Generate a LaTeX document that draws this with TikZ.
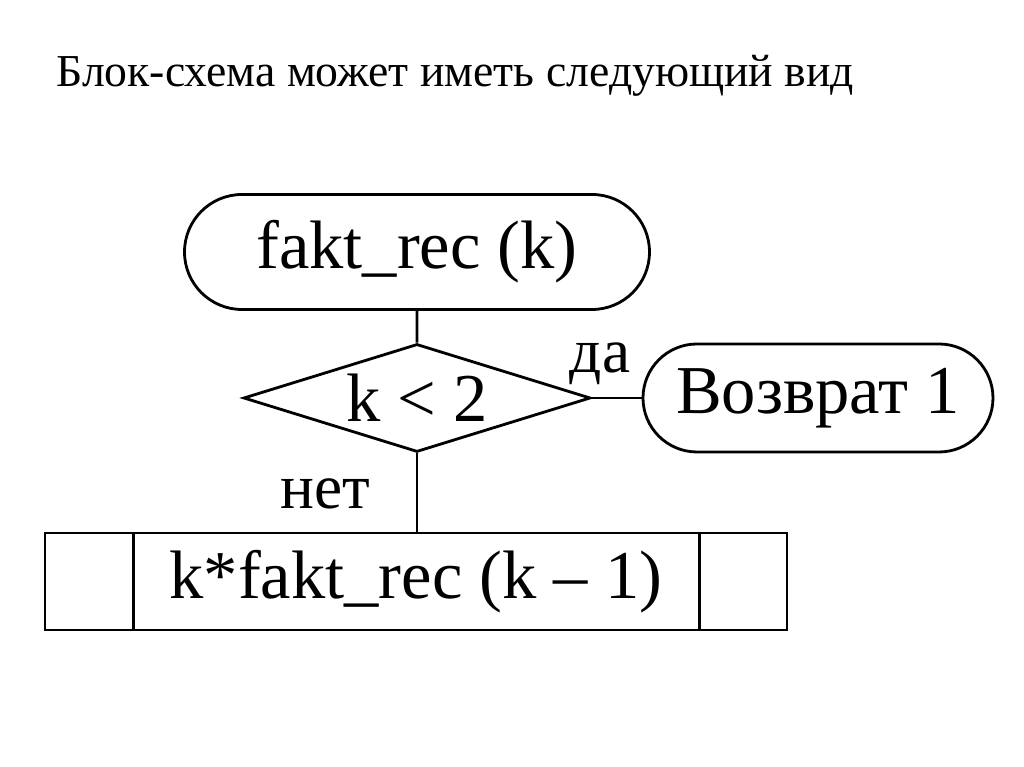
\documentclass[tikz,border=0pt]{standalone}
\usepackage{fontspec}
\setmainfont{Liberation Serif}
\usepackage{tikz}
\usetikzlibrary{positioning,calc,shapes.misc,shapes.geometric}

\begin{document}
\begin{tikzpicture}[
  line width=1.6pt,
  term/.style={rounded rectangle, draw, inner sep=0pt, minimum width=9.3cm, minimum height=2.3cm, font=\fontsize{39}{44}\selectfont},
  cond/.style={diamond, draw, inner sep=0pt, aspect=3.2, minimum width=6.94cm, minimum height=2.16cm, font=\fontsize{39}{44}\selectfont},
  proc/.style={rectangle, draw, inner sep=0pt, minimum width=14.84cm, minimum height=1.94cm, font=\fontsize{39}{44}\selectfont},
  lbl/.style={font=\fontsize{36}{40}\selectfont}
]
\useasboundingbox (0,0) rectangle (20.48,15.34);
\node[anchor=base west, inner sep=0pt, font=\fontsize{26}{30}\selectfont] (title) at (1.1,13.6) {Блок-схема может иметь следующий вид};
\node[term] (start) at (8.34,10.3) {fakt\_rec (k)};
\node[cond] (check) at (8.34,7.38) {k < 2};
\node[term, minimum width=7cm, minimum height=2.16cm] (ret) at (16.36,7.38) {Возврат 1};
\node[proc] (calc) at (8.32,3.71) {k*fakt\_rec (k – 1)};
\draw ($(calc.north west)+(1.8,0)$) -- ($(calc.south west)+(1.8,0)$);
\draw ($(calc.north east)+(-1.78,0)$) -- ($(calc.south east)+(-1.78,0)$);
\draw (start) -- (check);
\draw (check.east) -- (ret);
\draw (check.south) -- (check.south |- calc.north);
\node[lbl] (yes) at (12.0,8.06) {да};
\node[lbl] (no) at (6.5,5.46) {нет};
\end{tikzpicture}
\end{document}
